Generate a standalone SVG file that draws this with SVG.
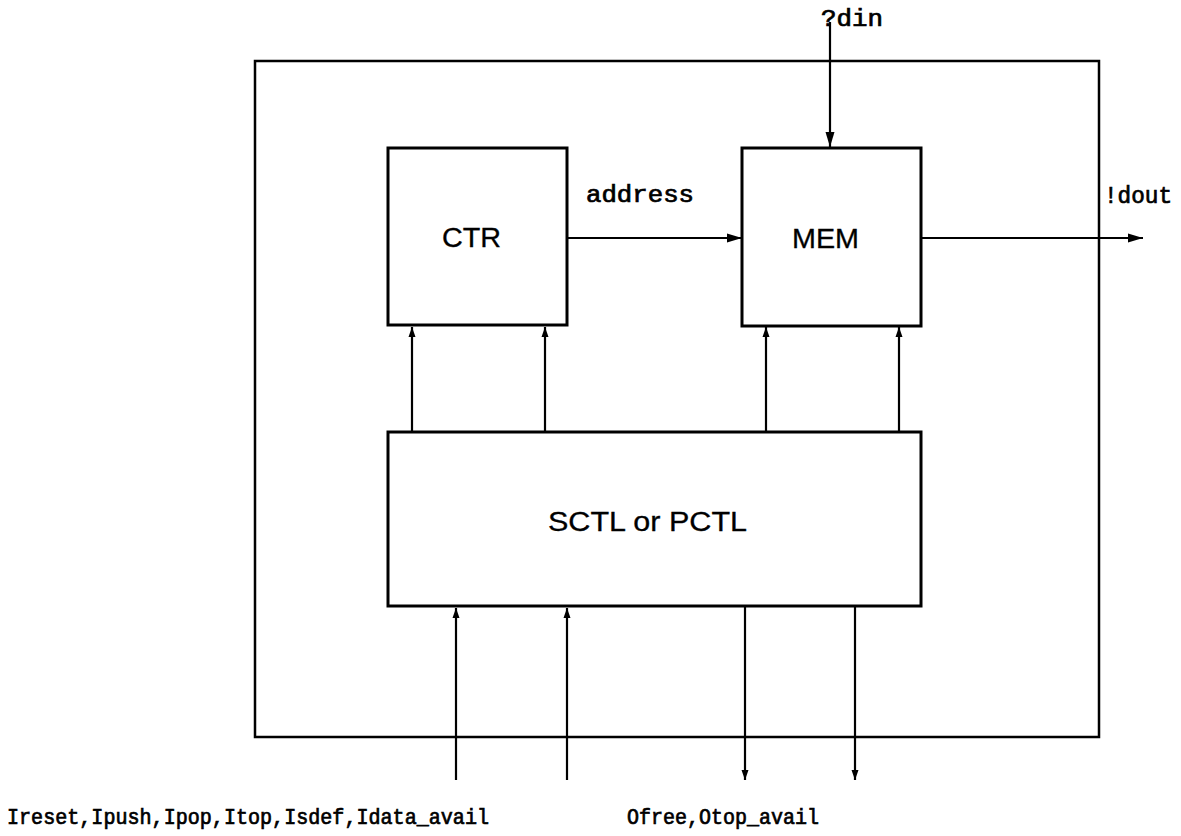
<svg xmlns="http://www.w3.org/2000/svg" width="1181" height="836" viewBox="0 0 1181 836">
  <style>
    .box { fill: #fff; stroke: #000; stroke-width: 3; }
    .frame { fill: none; stroke: #000; stroke-width: 2.5; }
    .wire { fill: none; stroke: #000; stroke-width: 2.2; }
    .name { font-family: "Liberation Sans", "DejaVu Sans", sans-serif; font-size: 27px; fill: #000; stroke: #000; stroke-width: 0.3; }
    .sig { font-family: "Liberation Mono", "DejaVu Sans Mono", monospace; fill: #000; stroke: #000; stroke-width: 0.7; }
  </style>
  <defs>
    <marker id="big" markerUnits="userSpaceOnUse" markerWidth="15" markerHeight="10" viewBox="0 0 15 10" refX="15" refY="5" orient="auto">
      <path d="M0,0.5 L15,5 L0,9.5 Z" fill="#000"/>
    </marker>
    <marker id="small" markerUnits="userSpaceOnUse" markerWidth="10" markerHeight="8" viewBox="0 0 10 8" refX="10" refY="4" orient="auto">
      <path d="M0,0.5 L10,4 L0,7.5 Z" fill="#000"/>
    </marker>
  </defs>

  <rect width="1181" height="836" fill="#fff"/>

  <!-- enclosing stack module -->
  <g id="stack">
    <rect class="frame" x="255" y="61" width="844" height="676"/>
  </g>

  <!-- counter -->
  <g id="ctr">
    <rect class="box" x="388" y="148" width="179" height="177"/>
    <text class="name" x="442" y="247" textLength="59" lengthAdjust="spacingAndGlyphs">CTR</text>
  </g>

  <!-- memory -->
  <g id="mem">
    <rect class="box" x="742" y="148" width="179" height="178"/>
    <text class="name" x="792" y="248" textLength="67" lengthAdjust="spacingAndGlyphs">MEM</text>
  </g>

  <!-- controller -->
  <g id="ctl">
    <rect class="box" x="388" y="432" width="533" height="174"/>
    <text class="name" x="548" y="531" textLength="199" lengthAdjust="spacingAndGlyphs">SCTL or PCTL</text>
  </g>

  <!-- signal wires -->
  <g id="connectors">
    <path class="wire" d="M830,22 V147" marker-end="url(#big)"/>
    <path class="wire" d="M567,238 H742" marker-end="url(#big)"/>
    <path class="wire" d="M921,238 H1143" marker-end="url(#big)"/>

    <path class="wire" d="M412,432 V327" marker-end="url(#small)"/>
    <path class="wire" d="M545,432 V327" marker-end="url(#small)"/>
    <path class="wire" d="M766,432 V327" marker-end="url(#small)"/>
    <path class="wire" d="M899,432 V327" marker-end="url(#small)"/>

    <path class="wire" d="M456,780 V608" marker-end="url(#small)"/>
    <path class="wire" d="M567,780 V608" marker-end="url(#small)"/>
    <path class="wire" d="M745,607 V780" marker-end="url(#small)"/>
    <path class="wire" d="M855,607 V780" marker-end="url(#small)"/>
  </g>

  <!-- port labels -->
  <g id="labels">
    <text class="sig" x="821" y="26" font-size="23" textLength="62" lengthAdjust="spacingAndGlyphs">?din</text>
    <text class="sig" x="586" y="202" font-size="23" textLength="108" lengthAdjust="spacingAndGlyphs">address</text>
    <text class="sig" x="1104" y="203" font-size="23" textLength="68" lengthAdjust="spacingAndGlyphs">!dout</text>
    <text class="sig" x="7" y="824" font-size="21.5" textLength="482" lengthAdjust="spacingAndGlyphs">Ireset,Ipush,Ipop,Itop,Isdef,Idata_avail</text>
    <text class="sig" x="627" y="824" font-size="21.5" textLength="192" lengthAdjust="spacingAndGlyphs">Ofree,Otop_avail</text>
  </g>
</svg>
